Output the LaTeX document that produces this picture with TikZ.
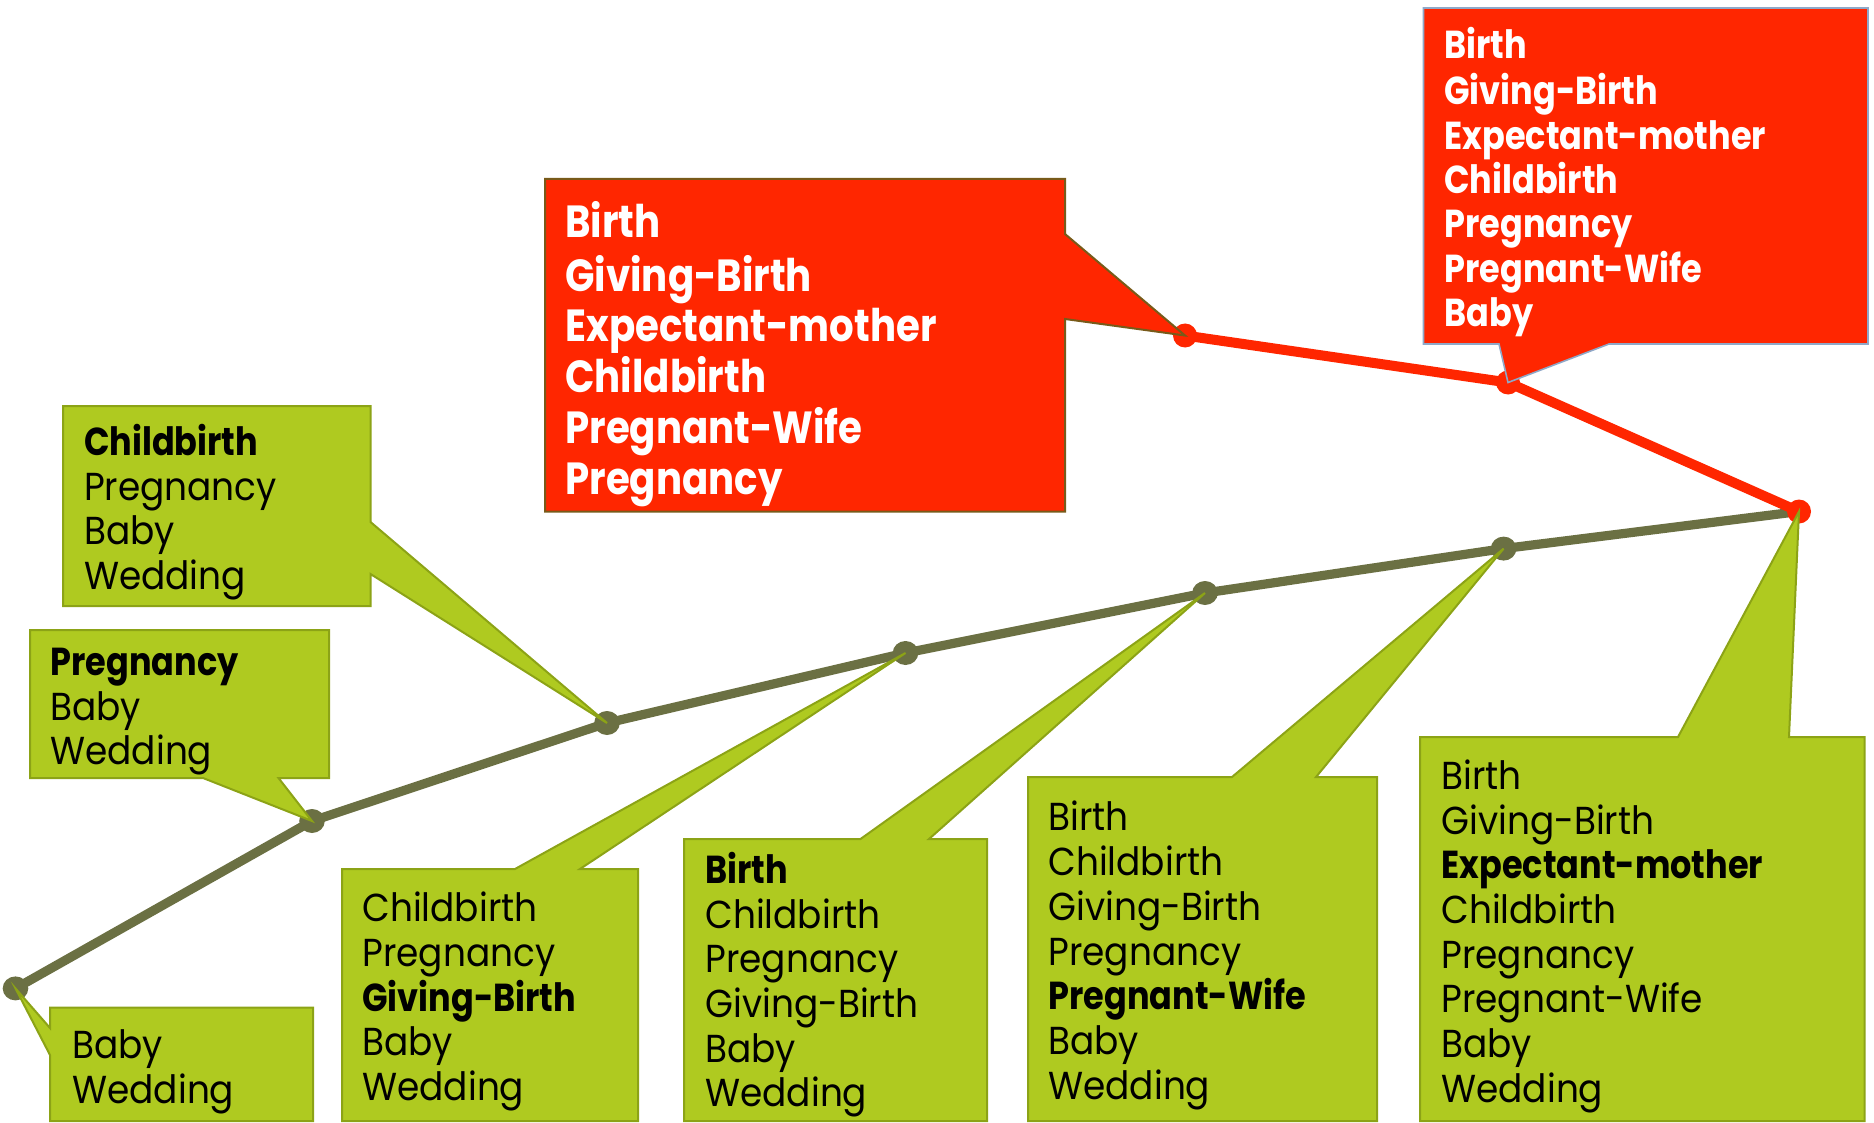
\documentclass[tikz,border=0pt]{standalone}
\usepackage{fontspec}
\setmainfont{Poppins}[UprightFeatures={FakeStretch=0.92},BoldFeatures={FakeStretch=0.86}]
\definecolor{boxgreen}{RGB}{175,202,32}
\definecolor{greenedge}{RGB}{140,163,22}
\definecolor{branchline}{RGB}{107,112,67}
\definecolor{hotred}{RGB}{255,38,0}
\definecolor{rededgeA}{RGB}{120,90,25}
\definecolor{rededgeB}{RGB}{143,168,200}
\begin{document}
\begin{tikzpicture}[x=0.5pt,y=-0.5pt,
  branch/.style={line width=4.6pt,line cap=round,line join=round},
  greencall/.style={fill=boxgreen,draw=greenedge,line width=1pt,line join=miter},
  redcallA/.style={fill=hotred,draw=rededgeA,line width=1pt,line join=miter},
  redcallB/.style={fill=hotred,draw=rededgeB,line width=0.8pt,line join=miter},
  words/.style={anchor=north west,inner sep=0pt,align=left,text=black,
    font=\fontsize{19.5}{22.35}\selectfont},
  redwordsA/.style={anchor=north west,inner sep=0pt,align=left,text=white,
    font=\fontsize{22.5}{25.35}\selectfont\bfseries},
  redwordsB/.style={anchor=north west,inner sep=0pt,align=left,text=white,
    font=\fontsize{19.5}{22.2}\selectfont\bfseries}]
\useasboundingbox (0,0) rectangle (1874,1123);

% merge points of the tree
\coordinate (p0) at (15.5,988.4);
\coordinate (p1) at (312,821);
\coordinate (p2) at (607,723);
\coordinate (p3) at (905.5,653);
\coordinate (p4) at (1205,593);
\coordinate (p5) at (1503.6,548.6);
\coordinate (p6) at (1799,511.5);
\coordinate (r1) at (1185,335.5);
\coordinate (r2) at (1508,382.5);

% branches
\draw[branch,branchline] (p0) -- (p1) -- (p2) -- (p3) -- (p4) -- (p5) -- (p6);
\draw[branch,hotred,line width=5pt] (r1) -- (r2) -- (p6);

% junction dots
\foreach \p in {p0,p1,p2,p3,p4,p5}
  \fill[branchline] (\p) ellipse [x radius=6.4pt,y radius=6pt];
\foreach \p in {p6,r1,r2}
  \fill[hotred] (\p) ellipse [x radius=6pt,y radius=6pt];

% green callouts
\draw[greencall] (63,406) -- (370.5,406) -- (370.5,522) -- (p2) -- (370.5,574)
  -- (370.5,606) -- (63,606) -- cycle;
\draw[greencall] (30,630) -- (329,630) -- (329,778) -- (278.5,778) -- (p1)
  -- (203,778) -- (30,778) -- cycle;
\draw[greencall] (50,1007.5) -- (313,1007.5) -- (313,1121) -- (50,1121)
  -- (50,1055) -- (p0) -- (50,1028) -- cycle;
\draw[greencall] (342,869) -- (515,869) -- (p3) -- (580,869) -- (638,869)
  -- (638,1121) -- (342,1121) -- cycle;
\draw[greencall] (684,839) -- (860.5,839) -- (p4) -- (929,839) -- (987,839)
  -- (987,1121) -- (684,1121) -- cycle;
\draw[greencall] (1028,777) -- (1232,777) -- (p5) -- (1316,777) -- (1377,777)
  -- (1377,1121) -- (1028,1121) -- cycle;
\draw[greencall] (1420,737) -- (1678,737) -- (p6) -- (1789,737) -- (1864.5,737)
  -- (1864.5,1121) -- (1420,1121) -- cycle;

% red callouts
\draw[redcallA] (545,179) -- (1065,179) -- (1065,234) -- (r1) -- (1065,319)
  -- (1065,511.5) -- (545,511.5) -- cycle;
\draw[redcallB] (1423.5,8) -- (1868,8) -- (1868,344) -- (1609,344) -- (r2)
  -- (1499,344) -- (1423.5,344) -- cycle;

% word lists
\node[words] (g1) at (83.7,423.7) {\strut\textbf{Childbirth}\\Pregnancy\\Baby\\Wedding};
\node[words] (g2) at (50,643.7) {\strut\textbf{Pregnancy}\\Baby\\Wedding};
\node[words] (g0) at (72,1026.7) {\strut Baby\\Wedding};
\node[words] (g3) at (362,890.2) {\strut Childbirth\\Pregnancy\\\textbf{Giving-Birth}\\Baby\\Wedding};
\node[words] (g4) at (705,851.7) {\strut\textbf{Birth}\\Childbirth\\Pregnancy\\Giving-Birth\\Baby\\Wedding};
\node[words] (g5) at (1048,799.2) {\strut Birth\\Childbirth\\Giving-Birth\\Pregnancy\\\textbf{Pregnant-Wife}\\Baby\\Wedding};
\node[words] (g6) at (1441,757.7) {\strut Birth\\Giving-Birth\\\textbf{Expectant-mother}\\Childbirth\\Pregnancy\\Pregnant-Wife\\Baby\\Wedding};
\node[redwordsA] (ra) at (565,201.5) {\strut Birth\\Giving-Birth\\Expectant-mother\\Childbirth\\Pregnant-Wife\\Pregnancy};
\node[redwordsB] (rb) at (1444,26.5) {\strut Birth\\Giving-Birth\\Expectant-mother\\Childbirth\\Pregnancy\\Pregnant-Wife\\Baby};
\end{tikzpicture}
\end{document}
